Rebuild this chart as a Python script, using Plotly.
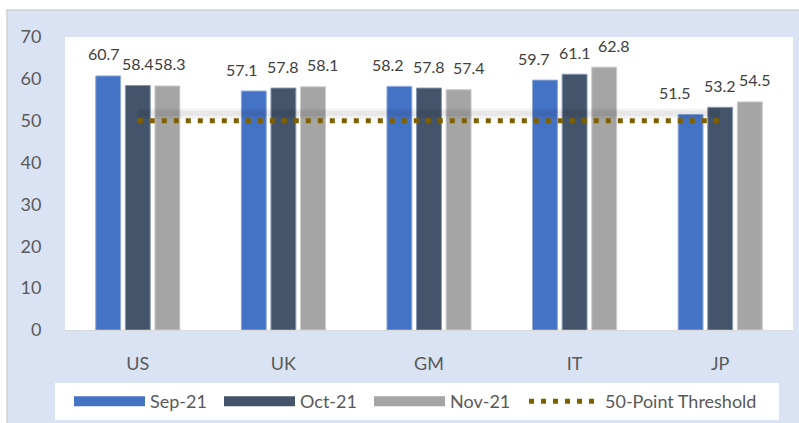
import plotly.graph_objects as go

countries = ["US", "UK", "GM", "IT", "JP"]
sep21 = [60.7, 57.1, 58.2, 59.7, 51.5]
oct21 = [58.4, 57.8, 57.8, 61.1, 53.2]
nov21 = [58.3, 58.1, 57.4, 62.8, 54.5]
threshold = [50, 50, 50, 50, 50]
y_ticks = [0, 10, 20, 30, 40, 50, 60, 70]

FONT = "Lato"
TXT = "#595959"
W, H = 799, 423
L, R, T, B = 65, 6, 37, 93
pw, ph = W - L - R, H - T - B

def px_x(px):
    return (px - L) / pw

def px_y(py):
    return (H - B - py) / ph

fig = go.Figure()
series = [("Sep-21", sep21, "#4472C4", "#8EA9DB"),
          ("Oct-21", oct21, "#44546A", "#8497B0"),
          ("Nov-21", nov21, "#A5A5A5", "#C9C9C9")]
# label placement (style): offset of each series' bar from category centre,
# plus small manual nudges per label as in the original
bar_off = [-32, 0, 32]
nudges = [[-2, -9, -9, -9, -13],
          [0, 0, 0, 0, 0],
          [0, 8, 8, 7, 3]]

annotations = []
for i, (name, vals, col, edge) in enumerate(series):
    fig.add_trace(go.Bar(
        x=countries, y=vals, name=name, showlegend=False,
        marker=dict(color=col, line=dict(color=edge, width=1)),
    ))
    for j, v in enumerate(vals):
        annotations.append(dict(
            x=countries[j], y=v, xref="x", yref="y", text=f"{v:.1f}",
            showarrow=False, xanchor="center", yanchor="middle",
            xshift=bar_off[i] + nudges[i][j], yshift=22,
            font=dict(family=FONT, size=16, color="#404040")))

# soft shadow under the threshold line
fig.add_trace(go.Scatter(
    x=countries, y=[v + 1.7 for v in threshold], mode="lines",
    line=dict(color="rgba(0,0,0,0.05)", width=10), showlegend=False,
    hoverinfo="skip"))
fig.add_trace(go.Scatter(
    x=countries, y=[v + 1.7 for v in threshold], mode="lines",
    line=dict(color="rgba(0,0,0,0.04)", width=5), showlegend=False,
    hoverinfo="skip"))
fig.add_trace(go.Scatter(
    x=countries, y=threshold, mode="lines", showlegend=False,
    line=dict(color="#7F6000", width=5, dash="5px,7px")))

# legend proxies
for name, vals, col, edge in series:
    fig.add_trace(go.Scatter(x=[None], y=[None], mode="lines", name=name,
                             line=dict(color=col, width=12), legend="legend"))
fig.add_trace(go.Scatter(x=[None], y=[None], mode="lines", name="50-Point Threshold",
                         line=dict(color="#7F6000", width=5, dash="5px,7px"),
                         legend="legend2"))

shapes = [
    dict(type="rect", xref="paper", yref="paper", layer="below",
         x0=px_x(7), x1=px_x(805), y0=px_y(10), y1=px_y(430),
         fillcolor="#DAE3F3", line=dict(color="#D0D0D0", width=1.5)),
    dict(type="rect", xref="paper", yref="paper", layer="below",
         x0=0, x1=1, y0=0, y1=1, fillcolor="white", line=dict(width=0)),
    dict(type="rect", xref="paper", yref="paper", layer="below",
         x0=px_x(55), x1=px_x(779), y0=px_y(383), y1=px_y(420),
         fillcolor="white", line=dict(width=0)),
]

legend_common = dict(orientation="h", xref="container", yref="container",
                     xanchor="left", y=1 - 383 / H, yanchor="top",
                     bgcolor="rgba(0,0,0,0)",
                     font=dict(family=FONT, size=18, color=TXT),
                     itemwidth=71, tracegroupgap=0)

fig.update_layout(
    width=W, height=H,
    margin=dict(l=L, r=R, t=T, b=B, autoexpand=False),
    paper_bgcolor="white", plot_bgcolor="rgba(0,0,0,0)",
    barmode="group", bargap=0.39, bargroupgap=0.16,
    font=dict(family=FONT, color=TXT, size=18),
    shapes=shapes, annotations=annotations,
    showlegend=True,
    legend=dict(x=69 / W, entrywidthmode="pixels", entrywidth=64, **legend_common),
    legend2=dict(x=524 / W, **legend_common),
    xaxis=dict(showgrid=False, showline=True, linecolor="#D9D9D9", linewidth=1,
               ticks="outside", ticklen=17, tickcolor="rgba(0,0,0,0)",
               tickfont=dict(family=FONT, size=18, color=TXT), automargin=False),
    yaxis=dict(range=[0, 70], tickvals=y_ticks, showgrid=False, zeroline=False,
               ticks="outside", ticklen=19, tickcolor="rgba(0,0,0,0)",
               tickfont=dict(family=FONT, size=18, color=TXT), automargin=False),
)

fig.write_html("out.html", config={"displayModeBar": False},
               post_script="document.body.style.margin='0';document.body.style.padding='0';")
